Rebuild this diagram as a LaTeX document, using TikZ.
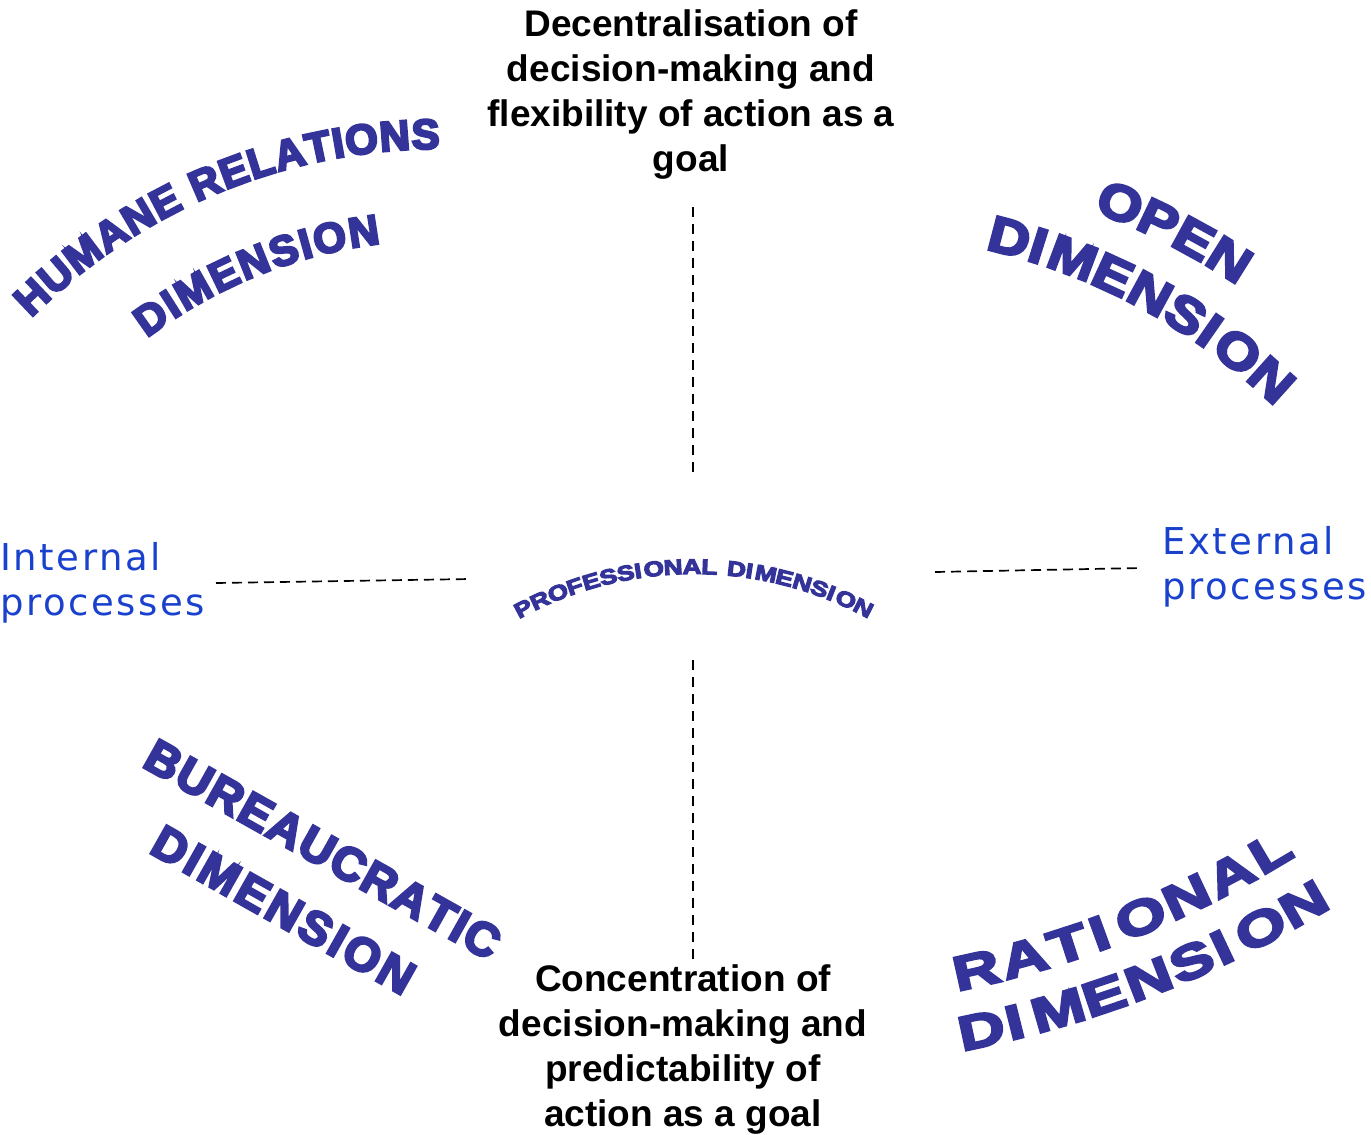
\documentclass[tikz,border=0pt]{standalone}
\usepackage{fontspec}
\usetikzlibrary{decorations.text}
\setmainfont{Liberation Sans}
% display face for the curved dimension names
\newfontfamily\artfont{Liberation Sans}[UprightFont={* Bold}]
% spaced face for the process labels
\newfontfamily\procfont{DejaVu Sans}[LetterSpace=7]
\definecolor{artblue}{RGB}{51,51,153}
\definecolor{procblue}{RGB}{25,65,205}
% glyphs filled and outlined (#1 = outline width) and widened (#2 = percent)
\newcommand{\heavyglyphs}[2]{\special{pdf:literal direct 2 Tr #1 w #2 Tz}}

\tikzset{
  goaltext/.style={font=\bfseries\fontsize{37}{45}\selectfont, align=center, inner sep=0pt, text=black},
  proctext/.style={font=\procfont\fontsize{37}{45}\selectfont, align=left, inner sep=0pt, text=procblue},
  guide/.style={line width=1.7pt, dash pattern=on 10pt off 7pt},
  hguide/.style={line width=1.7pt, dash pattern=on 10pt off 6pt},
  % curved label along a path: size, outline width, widening, text
  arcword/.style n args={4}{decorate, decoration={text along path, text align={fit to path},
    text={|\artfont\fontsize{#1}{#1}\selectfont\color{artblue}\heavyglyphs{#2}{#3}|#4}}},
}

\begin{document}
\begin{tikzpicture}[x=1pt,y=1pt]
\useasboundingbox (0,0) rectangle (1371,-1135);

% goal statements
\node[goaltext, anchor=north] (decentral) at (691,-9)
  {Decentralisation of\\decision-making and\\flexibility of action as a\\goal};
\node[goaltext, anchor=north] (concentr) at (683,-964)
  {Concentration of\\decision-making and\\predictability of\\action as a goal};

% process labels
\node[proctext, anchor=north west] (internal) at (0,-542) {Internal\\processes};
\node[proctext, anchor=north west] (external) at (1162,-526) {External\\processes};

% guide line end points
\coordinate (vtopA) at (693,-207);
\coordinate (vtopB) at (693,-478);
\coordinate (vbotA) at (693,-660);
\coordinate (vbotB) at (693,-964);
\coordinate (hlftA) at (216,-583);
\coordinate (hlftB) at (470,-579);
\coordinate (hrgtA) at (935,-572);
\coordinate (hrgtB) at (1142,-568);

\draw[guide] (vtopA) -- (vtopB);
\draw[guide] (vbotA) -- (vbotB);
\draw[hguide] (hlftA) -- (hlftB);
\draw[hguide] (hrgtA) -- (hrgtB);

% humane relations dimension
\path[arcword={42}{2.4}{100}{HUMANE RELATIONS}]
  (31,-318) arc[start angle=135, end angle=90, radius=578pt];
\path[arcword={42}{2.4}{100}{DIMENSION}]
  (147,-338) arc[start angle=127, end angle=97, radius=487pt];

% open dimension
\path[arcword={50}{2.6}{115}{OPEN}]
  (1093,-211) arc[start angle=69.6, end angle=56.4, radius=685pt];
\path[arcword={50}{2.6}{115}{DIMENSION}]
  (985,-249) arc[start angle=77, end angle=46.4, radius=616pt];

% professional dimension
\path[arcword={21}{1.2}{125}{PROFESSIONAL DIMENSION}]
  (519,-619) arc[start angle=118.9, end angle=61.8, radius=362pt];

% bureaucratic dimension
\path[arcword={47}{2.5}{100}{BUREAUCRATIC}] (141,-766) -- (489,-961);
\path[arcword={47}{2.5}{100}{DIMENSION}] (148,-852) -- (403,-996);

% rational dimension
\path[arcword={48}{2.6}{135}{RATIONAL}]
  (957,-991) arc[start angle=-78.4, end angle=-58.6, radius=1031pt];
\path[arcword={48}{2.6}{135}{DIMENSION}]
  (962,-1051) arc[start angle=-78.7, end angle=-59.3, radius=1143pt];
\end{tikzpicture}
\end{document}
